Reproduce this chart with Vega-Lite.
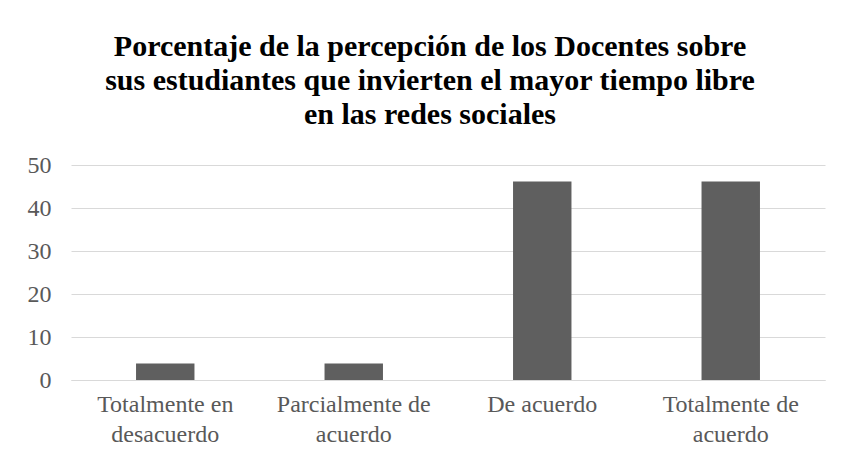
{
  "$schema": "https://vega.github.io/schema/vega-lite/v6.json",
  "autosize": "none",
  "width": 754,
  "height": 215,
  "padding": {"left": 71, "top": 165, "right": 17, "bottom": 79},
  "background": "white",
  "title": {
    "text": ["Porcentaje de la percepción de los Docentes sobre", "sus estudiantes que invierten el mayor tiempo libre", "en las redes sociales"],
    "font": "Liberation Serif",
    "fontSize": 30,
    "fontWeight": "bold",
    "color": "#000000",
    "lineHeight": 34,
    "anchor": "middle",
    "dx": -18,
    "offset": 23
  },
  "data": {
    "values": [
      {"respuesta": "Totalmente en desacuerdo", "porcentaje": 3.85},
      {"respuesta": "Parcialmente de acuerdo", "porcentaje": 3.85},
      {"respuesta": "De acuerdo", "porcentaje": 46.15},
      {"respuesta": "Totalmente de acuerdo", "porcentaje": 46.15}
    ]
  },
  "mark": {"type": "bar", "color": "#5f5f5f"},
  "encoding": {
    "x": {
      "field": "respuesta",
      "type": "nominal",
      "sort": null,
      "scale": {"paddingInner": 0.69, "paddingOuter": 0.345},
      "axis": {
        "title": null,
        "labelAngle": 0,
        "ticks": false,
        "domainColor": "#d9d9d9",
        "domainWidth": 1,
        "labelFont": "Liberation Serif",
        "labelFontSize": 24,
        "labelColor": "#595959",
        "labelPadding": 12,
        "labelLineHeight": 30,
        "labelBaseline": "top",
        "labelExpr": "datum.value == 'Totalmente en desacuerdo' ? ['Totalmente en', 'desacuerdo'] : datum.value == 'Parcialmente de acuerdo' ? ['Parcialmente de', 'acuerdo'] : datum.value == 'Totalmente de acuerdo' ? ['Totalmente de', 'acuerdo'] : datum.value"
      }
    },
    "y": {
      "field": "porcentaje",
      "type": "quantitative",
      "scale": {"domain": [0, 50], "nice": false},
      "axis": {
        "title": null,
        "values": [0, 10, 20, 30, 40, 50],
        "ticks": false,
        "domain": false,
        "grid": true,
        "gridColor": "#d9d9d9",
        "gridWidth": 1,
        "labelFont": "Liberation Serif",
        "labelFontSize": 24,
        "labelColor": "#595959",
        "labelPadding": 20
      }
    }
  },
  "config": {"view": {"stroke": null}}
}
